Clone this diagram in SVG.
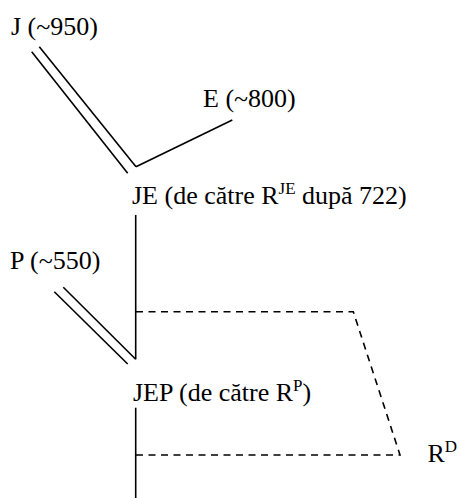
<svg xmlns="http://www.w3.org/2000/svg" width="459" height="498" viewBox="0 0 459 498">
<style>
.t{font-family:'Liberation Serif','Times New Roman',serif;font-size:26px;fill:#000}
.sup{font-size:17px}
.s{stroke:#000;stroke-width:1.6;fill:none}
.d{stroke:#000;stroke-width:1.6;fill:none;stroke-dasharray:7,5.5}
</style>
<rect width="459" height="498" fill="#fff"/>
<g id="connectors">
<line class="s" x1="31.7" y1="51.7" x2="127.7" y2="173.3"/>
<line class="s" x1="39.3" y1="46.7" x2="136" y2="166.7"/>
<line class="s" x1="136" y1="166.7" x2="232.3" y2="120"/>
<line class="s" x1="135.7" y1="215" x2="135.7" y2="359.3"/>
<line class="s" x1="54.3" y1="291.7" x2="127.7" y2="364"/>
<line class="s" x1="63.3" y1="287.3" x2="135.7" y2="359.3"/>
<line class="s" x1="135.7" y1="407.7" x2="135.7" y2="498"/>
<polyline class="d" points="136,311.7 353.3,311.7 400,455 136,455"/>
</g>
<g id="J"><text class="t" x="11" y="34.5">J (~950)</text></g>
<g id="E"><text class="t" x="203" y="107">E (~800)</text></g>
<g id="JE"><text class="t" x="132" y="203.5">JE (de către R<tspan class="sup" dy="-10">JE</tspan><tspan dy="10"> după 722)</tspan></text></g>
<g id="P"><text class="t" x="10" y="269">P (~550)</text></g>
<g id="JEP"><text class="t" x="133" y="400.5">JEP (de către R<tspan class="sup" dy="-10">P</tspan><tspan dy="10">)</tspan></text></g>
<g id="RD"><text class="t" x="427.5" y="462">R<tspan class="sup" dy="-10">D</tspan></text></g>
</svg>
